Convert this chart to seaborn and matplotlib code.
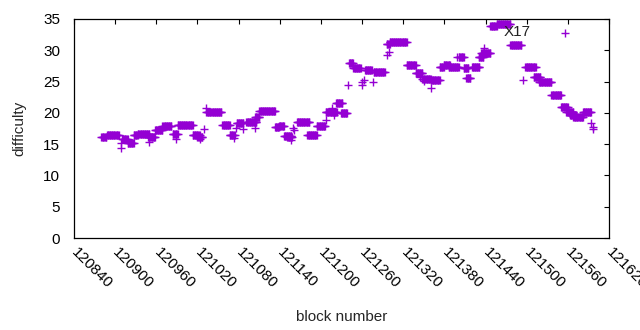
import numpy as np
import pandas as pd
import matplotlib
matplotlib.use("Agg")
import matplotlib.pyplot as plt
import seaborn as sns

# runs of consecutive blocks sharing one difficulty value
run_start = [120880, 120888, 120910, 120918, 120927, 120933, 120948, 120958, 120969, 120984,
             120991, 121013, 121020, 121033, 121056, 121067, 121077, 121091, 121104, 121110,
             121133, 121139, 121146, 121151, 121165, 121180, 121194, 121207, 121222, 121229,
             121241, 121247, 121264, 121277, 121296, 121300, 121325, 121338, 121348, 121360,
             121373, 121379, 121386, 121401, 121408, 121412, 121420, 121430, 121434, 121447,
             121456, 121476, 121498, 121510, 121518, 121536, 121550, 121558, 121563, 121568,
             121582]
run_end = [120887, 120905, 120918, 120927, 120933, 120950, 120958, 120969, 120982, 120991,
           121013, 121023, 121027, 121055, 121067, 121074, 121087, 121106, 121110, 121133,
           121139, 121146, 121157, 121158, 121183, 121194, 121206, 121223, 121231, 121238,
           121247, 121258, 121274, 121293, 121300, 121325, 121338, 121348, 121360, 121373,
           121379, 121388, 121401, 121408, 121415, 121418, 121431, 121437, 121447, 121456,
           121476, 121492, 121513, 121520, 121536, 121550, 121560, 121568, 121572, 121582,
           121594]
run_diff = [16.1, 16.5, 15.8, 15.2, 16.5, 16.6, 16.1, 17.3, 17.9, 16.7,
            18.1, 16.5, 16.1, 20.2, 18.1, 16.5, 18.4, 18.5, 19.3, 20.3,
            17.8, 17.9, 16.3, 16.1, 18.5, 16.4, 17.9, 20.1, 21.5, 20.0,
            27.9, 27.1, 26.8, 26.6, 31.0, 31.4, 27.6, 26.3, 25.4, 25.3,
            27.3, 27.6, 27.3, 28.9, 27.1, 25.6, 27.4, 29.0, 29.6, 33.9,
            34.2, 30.8, 27.4, 25.8, 25.0, 22.8, 21.0, 20.1, 19.6, 19.3,
            20.2]

# isolated blocks
single_block = [120908, 120908, 120950, 120988, 121024, 121030, 121033, 121073, 121076, 121087,
                121104, 121157, 121160, 121161, 121207, 121216, 121219, 121239, 121260, 121260,
                121263, 121276, 121296, 121299, 121345, 121350, 121360, 121398, 121438, 121495,
                121556, 121594, 121596, 121597]
single_diff = [15.2, 14.4, 15.4, 15.8, 15.8, 17.5, 20.8, 16.0, 17.6, 17.5,
               17.6, 15.7, 17.6, 17.3, 18.8, 20.8, 19.7, 24.4, 25.0, 24.5,
               25.2, 24.9, 29.2, 29.7, 25.7, 25.1, 24.0, 29.0, 30.3, 25.2,
               32.8, 18.3, 17.8, 17.4]

x_ticks = np.arange(120840, 121621, 60)
y_ticks = np.arange(0, 36, 5)

blocks = []
diffs = []
for s, e, d in zip(run_start, run_end, run_diff):
    for b in range(s, e + 1):
        blocks.append(b)
        diffs.append(d)
blocks += single_block
diffs += single_diff
df = pd.DataFrame({"block": blocks, "difficulty": diffs})

sns.set_theme(style="white")
plt.rcParams['font.family'] = ['Liberation Sans', 'DejaVu Sans']

fig = plt.figure(figsize=(6.4, 3.3), dpi=100)
ax = fig.add_axes([74 / 640, 92 / 330, 535 / 640, 219 / 330])

sns.scatterplot(data=df, x="block", y="difficulty", marker="+", s=26,
                color="#9400D3", linewidth=1.0, ax=ax, legend=False)

ax.text(121486, 33.0, "X17", ha="center", va="center", fontsize=11, color="#222222")

ax.set_xlim(120840, 121620)
ax.set_ylim(0, 35)
ax.set_xticks(x_ticks)
ax.set_yticks(y_ticks)
ax.set_xticklabels([str(t) for t in x_ticks],
                   rotation=-45, ha="left", va="center", rotation_mode="anchor")
ax.tick_params(direction="in", top=True, right=True, length=3.5, width=0.8,
               labelsize=11, colors="black")
ax.tick_params(axis="x", pad=9)
ax.tick_params(axis="y", pad=10)
for sp in ax.spines.values():
    sp.set_color("black")
    sp.set_linewidth(0.9)

ax.set_xlabel("block number", fontsize=11, labelpad=13)
ax.set_ylabel("difficulty", fontsize=11, labelpad=12)

fig.savefig("out.png", dpi=100)
